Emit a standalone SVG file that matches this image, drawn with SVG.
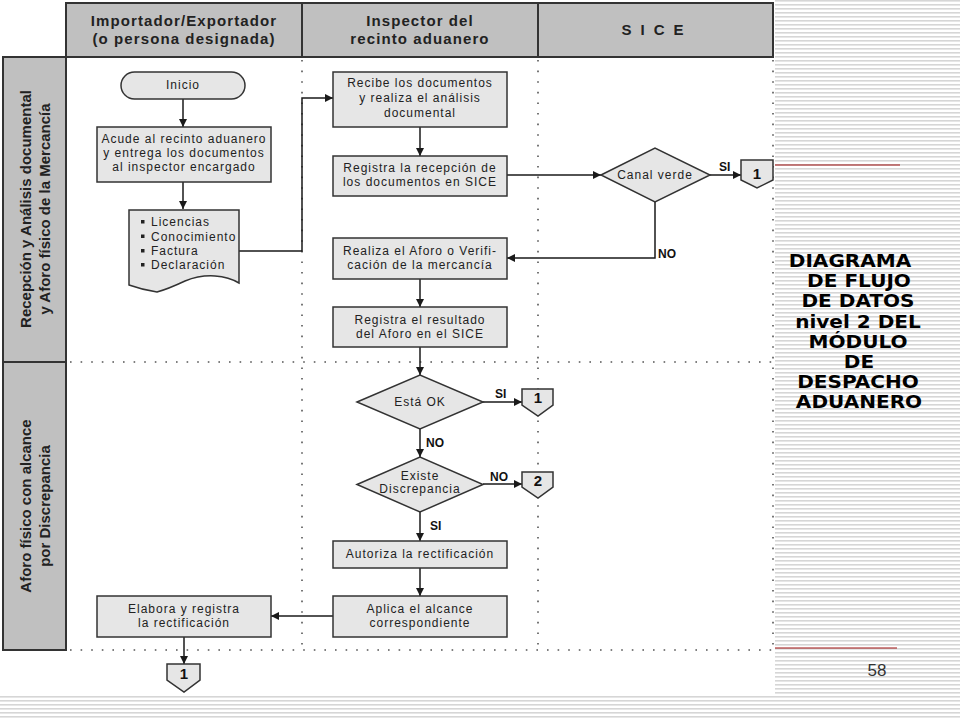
<svg xmlns="http://www.w3.org/2000/svg" width="960" height="720" viewBox="0 0 960 720">
<defs>
<pattern id="stripes" width="8" height="4" patternUnits="userSpaceOnUse">
<rect x="0" y="0" width="8" height="1.6" fill="#d6d6d6"/>
</pattern>
<marker id="ah" markerUnits="userSpaceOnUse" markerWidth="9" markerHeight="8" refX="8" refY="4" orient="auto">
<path d="M0,0 L8,4 L0,8 Z" fill="#1a1a1a"/>
</marker>
<style>
.hdr{fill:#c0c0c0;stroke:#333;stroke-width:2}
.box{fill:#e6e6e6;stroke:#333;stroke-width:1.5}
.opc{fill:#e6e6e6;stroke:#333;stroke-width:1.5}
.t{font-family:"Liberation Sans",Arial,sans-serif;font-size:12px;letter-spacing:1px;fill:#222;text-anchor:middle}
.ts{font-family:"Liberation Sans",Arial,sans-serif;font-size:12px;letter-spacing:1px;fill:#222}
.ht{font-family:"Liberation Sans",Arial,sans-serif;font-weight:bold;font-size:15px;letter-spacing:1.1px;fill:#222;text-anchor:middle}
.lt{font-family:"Liberation Sans",Arial,sans-serif;font-weight:bold;font-size:15px;fill:#222;text-anchor:middle}
.lbl{font-family:"Liberation Sans",Arial,sans-serif;font-weight:bold;font-size:12px;fill:#111}
.num{font-family:"Liberation Sans",Arial,sans-serif;font-weight:bold;font-size:15px;fill:#111;text-anchor:middle}
.conn{fill:none;stroke:#1a1a1a;stroke-width:1.5}
.arr{marker-end:url(#ah)}
.dot{stroke:#555;stroke-width:1.6;stroke-dasharray:1.6 9;fill:none}
.title{font-family:"DejaVu Sans",Verdana,sans-serif;font-weight:bold;font-size:17px;fill:#000;text-anchor:middle}
</style>
</defs>

<g id="background">
<rect x="0" y="0" width="960" height="720" fill="#ffffff"/>
<rect x="0" y="0" width="960" height="720" fill="url(#stripes)"/>
<rect x="0" y="0" width="775" height="695" fill="#ffffff"/>
<line x1="775" y1="165" x2="900" y2="165" stroke="#a01010" stroke-width="1.2"/>
<line x1="775" y1="648" x2="897" y2="648" stroke="#a01010" stroke-width="1.2"/>
</g>

<g id="header">
<rect class="hdr" x="66" y="3" width="236" height="54"/>
<rect class="hdr" x="302" y="3" width="236" height="54"/>
<rect class="hdr" x="538" y="3" width="235" height="54"/>
<text class="ht" x="184" y="26">Importador/Exportador</text>
<text class="ht" x="184" y="44">(o persona designada)</text>
<text class="ht" x="420" y="26">Inspector del</text>
<text class="ht" x="420" y="44">recinto aduanero</text>
<text class="ht" x="657" y="35" style="letter-spacing:9px">SICE</text>
</g>

<g id="lanes">
<rect class="hdr" x="3" y="57" width="63" height="305"/>
<rect class="hdr" x="3" y="362" width="63" height="288"/>
<text class="lt" transform="translate(31,209) rotate(-90)">Recepción y Análisis documental</text>
<text class="lt" transform="translate(50,209) rotate(-90)">y Aforo físico de la Mercancía</text>
<text class="lt" transform="translate(31,506) rotate(-90)">Aforo físico con alcance</text>
<text class="lt" transform="translate(50,506) rotate(-90)">por Discrepancia</text>
<line class="dot" x1="302" y1="60" x2="302" y2="650"/>
<line class="dot" x1="538" y1="60" x2="538" y2="650"/>
<line class="dot" x1="773" y1="60" x2="773" y2="650"/>
<line class="dot" x1="70" y1="362" x2="773" y2="362"/>
<line class="dot" x1="70" y1="650" x2="773" y2="650"/>
</g>

<g id="connectors">
<path class="conn arr" d="M183,99 V127"/>
<path class="conn arr" d="M183,182 V209"/>
<path class="conn arr" d="M239,251 H302 V98 H333"/>
<path class="conn arr" d="M420,127 V156"/>
<path class="conn arr" d="M507,175 H601"/>
<path class="conn arr" d="M710,175 H741"/>
<path class="conn arr" d="M655,202 V258 H507"/>
<path class="conn arr" d="M420,279 V307"/>
<path class="conn arr" d="M420,347 V375"/>
<path class="conn arr" d="M483,402 H522"/>
<path class="conn arr" d="M420,429 V457"/>
<path class="conn arr" d="M483,484 H522"/>
<path class="conn arr" d="M420,512 V541"/>
<path class="conn arr" d="M420,568 V596"/>
<path class="conn arr" d="M333,616 H271"/>
<path class="conn arr" d="M184,637 V664"/>
<text class="lbl" x="719" y="171">SI</text>
<text class="lbl" x="658" y="258">NO</text>
<text class="lbl" x="495" y="398">SI</text>
<text class="lbl" x="426" y="447">NO</text>
<text class="lbl" x="490" y="481">NO</text>
<text class="lbl" x="430" y="530">SI</text>
</g>

<g id="inicio">
<rect class="box" x="121" y="72" width="124" height="27" rx="13.5" ry="13.5"/>
<text class="t" x="183" y="89">Inicio</text>
</g>

<g id="acude">
<rect class="box" x="97" y="127" width="174" height="55"/>
<text class="t" x="184" y="143">Acude al recinto aduanero</text>
<text class="t" x="184" y="157">y entrega los documentos</text>
<text class="t" x="184" y="171">al inspector encargado</text>
</g>

<g id="documentos">
<path class="box" d="M129,210 H239 V283 Q229,277 215,276 Q200,275 185,281 Q168,289 157,292 Q143,290 129,285 Z"/>
<rect x="141" y="220" width="3.5" height="3.5" fill="#222"/>
<rect x="141" y="234.5" width="3.5" height="3.5" fill="#222"/>
<rect x="141" y="249" width="3.5" height="3.5" fill="#222"/>
<rect x="141" y="263" width="3.5" height="3.5" fill="#222"/>
<text class="ts" x="151" y="226">Licencias</text>
<text class="ts" x="151" y="240.5">Conocimiento</text>
<text class="ts" x="151" y="255">Factura</text>
<text class="ts" x="151" y="269">Declaración</text>
</g>

<g id="recibe">
<rect class="box" x="333" y="72" width="174" height="55"/>
<text class="t" x="420" y="87">Recibe los documentos</text>
<text class="t" x="420" y="102">y realiza el análisis</text>
<text class="t" x="420" y="117">documental</text>
</g>

<g id="registra-recepcion">
<rect class="box" x="333" y="156" width="174" height="40"/>
<text class="t" x="420" y="172">Registra la recepción de</text>
<text class="t" x="420" y="186">los documentos en SICE</text>
</g>

<g id="canal-verde">
<polygon class="box" points="601,175 655,148 710,175 655,202"/>
<text class="t" x="655" y="179">Canal verde</text>
</g>

<g id="opc-1a">
<polygon class="opc" points="741,160 773,160 773,180 757,188 741,180"/>
<text class="num" x="757" y="179">1</text>
</g>

<g id="realiza-aforo">
<rect class="box" x="333" y="238" width="174" height="41"/>
<text class="t" x="420" y="255">Realiza el Aforo o Verifi-</text>
<text class="t" x="420" y="269">cación de la mercancía</text>
</g>

<g id="registra-resultado">
<rect class="box" x="333" y="307" width="174" height="40"/>
<text class="t" x="420" y="323.5">Registra el resultado</text>
<text class="t" x="420" y="337.5">del Aforo en el SICE</text>
</g>

<g id="esta-ok">
<polygon class="box" points="357,402 420,375 483,402 420,429"/>
<text class="t" x="420" y="406">Está OK</text>
</g>

<g id="opc-1b">
<polygon class="opc" points="522,389 553,389 553,405 538,416 522,405"/>
<text class="num" x="538" y="403">1</text>
</g>

<g id="existe-discrepancia">
<polygon class="box" points="357,484.5 420,457 483,484.5 420,512"/>
<text class="t" x="420" y="480">Existe</text>
<text class="t" x="420" y="493">Discrepancia</text>
</g>

<g id="opc-2">
<polygon class="opc" points="522,472 553,472 553,487 538,498 522,487"/>
<text class="num" x="538" y="486">2</text>
</g>

<g id="autoriza">
<rect class="box" x="333" y="541" width="174" height="27"/>
<text class="t" x="420" y="558">Autoriza la rectificación</text>
</g>

<g id="aplica">
<rect class="box" x="333" y="596" width="174" height="41"/>
<text class="t" x="420" y="613">Aplica el alcance</text>
<text class="t" x="420" y="627">correspondiente</text>
</g>

<g id="elabora">
<rect class="box" x="97" y="596" width="174" height="41"/>
<text class="t" x="184" y="613">Elabora y registra</text>
<text class="t" x="184" y="627">la rectificación</text>
</g>

<g id="opc-1c">
<polygon class="opc" points="167,664 200,664 200,680 184,692 167,680"/>
<text class="num" x="184" y="679">1</text>
</g>

<g id="titulo">
<text class="title" transform="translate(850,267) scale(1.18,1)">DIAGRAMA</text>
<text class="title" transform="translate(859,287) scale(1.18,1)">DE FLUJO</text>
<text class="title" transform="translate(858,307) scale(1.18,1)">DE DATOS</text>
<text class="title" transform="translate(858,327.5) scale(1.18,1)">nivel 2 DEL</text>
<text class="title" transform="translate(858,347.5) scale(1.18,1)">MÓDULO</text>
<text class="title" transform="translate(859,368) scale(1.18,1)">DE</text>
<text class="title" transform="translate(858,388) scale(1.18,1)">DESPACHO</text>
<text class="title" transform="translate(859,408) scale(1.18,1)">ADUANERO</text>
</g>

<g id="pagina">
<text x="877" y="676" style="font-family:'Liberation Sans',Arial,sans-serif;font-size:17px;fill:#333;text-anchor:middle">58</text>
</g>
</svg>
